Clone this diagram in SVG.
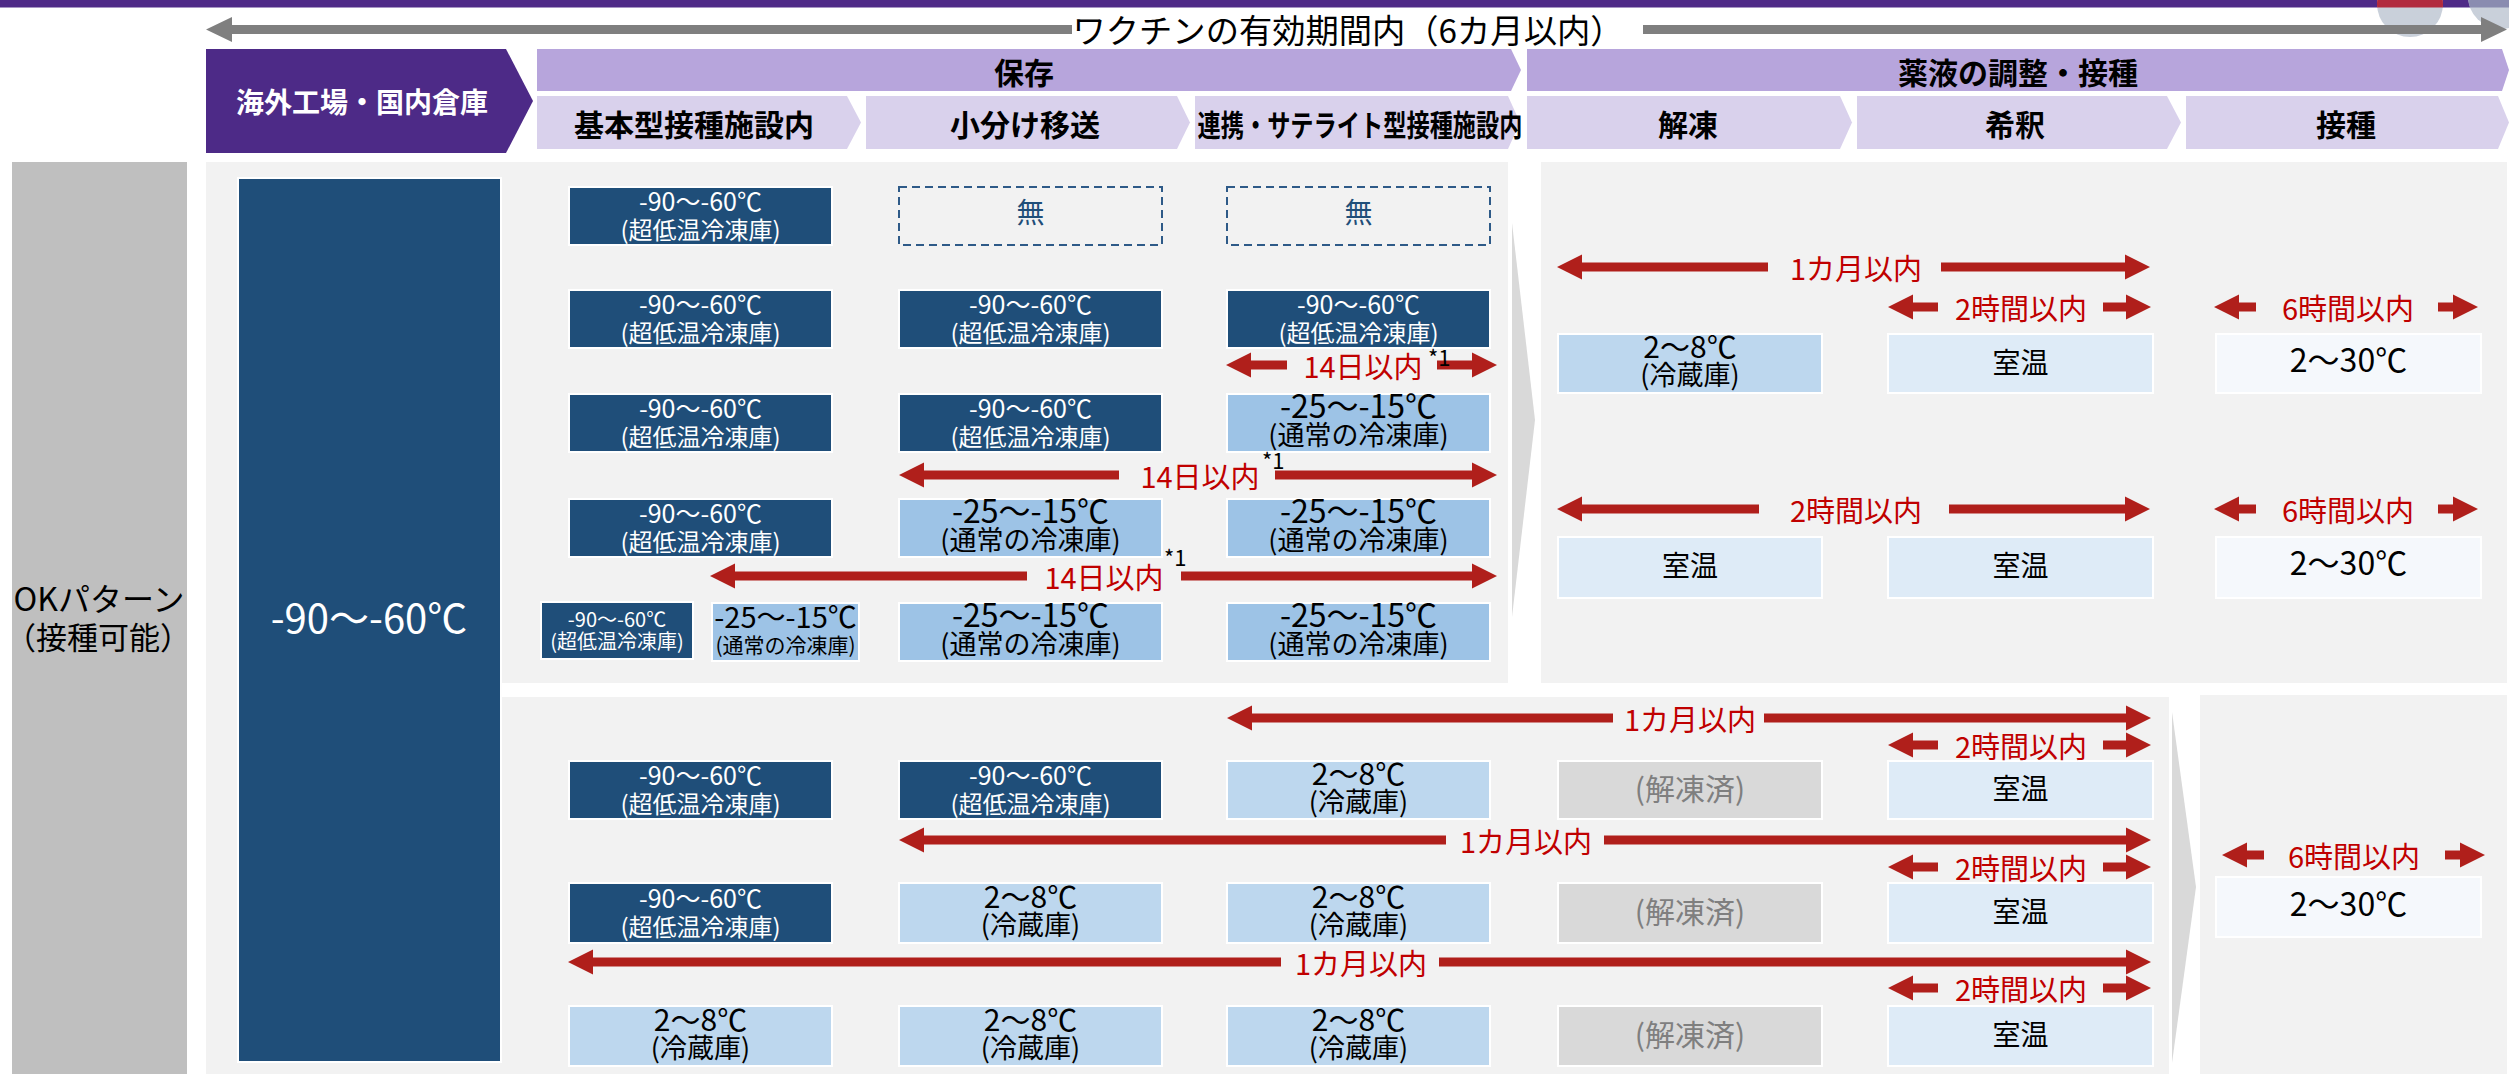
<svg xmlns="http://www.w3.org/2000/svg" width="2509" height="1074" viewBox="0 0 2509 1074">
<defs>
<style>
text{font-family:"Noto Sans CJK JP","Noto Sans",sans-serif;text-anchor:middle}
.hb{font-weight:700;font-size:30px;fill:#000}
.dk{fill:#1f4e79;stroke:#fff;stroke-width:2}
.lb{fill:#9dc3e6;stroke:#fff;stroke-width:2}
.rf{fill:#bdd7ee;stroke:#fff;stroke-width:2}
.rt{fill:#deebf7;stroke:#fff;stroke-width:2}
.rw{fill:#f5f8fc;stroke:#fff;stroke-width:2}
.th{fill:#d9d9d9;stroke:#fff;stroke-width:2}
.ds{fill:none;stroke:#2e5a88;stroke-width:2;stroke-dasharray:8 5}
.w{fill:#fff}
.k{fill:#000}
.d1{font-size:25px}
.d2{font-size:24px}
.l1{font-size:32px}
.l2{font-size:27px}
.f1{font-size:30px}
.rtx{font-size:28px;fill:#000}
.w30{font-size:32px;fill:#000}
.thx{font-size:30px;fill:#7f7f7f}
.nx{font-size:28px;fill:#1f4e79}
.r{fill:#c00000;font-size:29px}
.ar{fill:#b01f1b}
.ga{fill:#7f7f7f}
.s{font-size:22px;text-anchor:start;fill:#000}
.panel{fill:#f2f2f2}
.sl{fill:#d9d9d9}
</style>
<clipPath id="barclip"><rect x="0" y="0" width="2509" height="7.5"/></clipPath>
</defs>
<rect x="0" y="0" width="2509" height="1074" fill="#fff"/>

<g id="topbar">
<rect x="0" y="0" width="2509" height="7.5" fill="#4f2a87"/>
<circle cx="2410" cy="4" r="33" fill="#c9d0da"/>
<circle cx="2410" cy="4" r="33" fill="#b22a3e" clip-path="url(#barclip)"/>
<circle cx="2501" cy="-4" r="33" fill="#c9d0da"/>
<circle cx="2501" cy="-4" r="33" fill="#8a8cb0" clip-path="url(#barclip)"/>
</g>

<g id="validity">
<polygon class="ga" points="206,29.5 232,17 232,25 1072,25 1072,34 232,34 232,42"/>
<polygon class="ga" points="2507,29.5 2481,17 2481,25 1643,25 1643,34 2481,34 2481,42"/>
<text x="1348" y="43" font-size="33" fill="#000" textLength="551" lengthAdjust="spacingAndGlyphs">ワクチンの有効期間内（6カ月以内）</text>
</g>

<g id="panels">
<rect class="panel" x="206" y="162" width="1302" height="521"/>
<rect class="panel" x="206" y="162" width="296" height="912"/>
<rect class="panel" x="502" y="697" width="1667" height="377"/>
<rect class="panel" x="1541" y="162" width="966" height="521"/>
<rect class="panel" x="2200" y="695" width="307" height="379"/>
<polygon class="sl" points="1512,223 1535,420 1512,617"/>
<polygon class="sl" points="2172,712 2196,887 2172,1063"/>
</g>

<g id="header-factory">
<polygon points="206,49 506,49 533,101 506,153 206,153" fill="#4d2a87"/>
<text class="hb w" style="font-size:28px" x="362" y="113">海外工場・国内倉庫</text>
</g>
<g id="header-storage">
<polygon points="537,49 1511,49 1521,70 1511,91 537,91" fill="#b7a5dc"/>
<text class="hb" x="1024" y="84">保存</text>
</g>
<g id="header-prep">
<polygon points="1527,49 2502,49 2509,70 2502,91 1527,91" fill="#b7a5dc"/>
<text class="hb" x="2018" y="84">薬液の調整・接種</text>
</g>
<g id="sub-basic">
<polygon points="537,96 847,96 861,122.5 847,149 537,149" fill="#d9d1ec"/>
<text class="hb" x="694" y="136">基本型接種施設内</text>
</g>
<g id="sub-transfer">
<polygon points="866,96 1177,96 1190,122.5 1177,149 866,149" fill="#d9d1ec"/>
<text class="hb" x="1025" y="136">小分け移送</text>
</g>
<g id="sub-satellite">
<polygon points="1195,96 1508,96 1520,122.5 1508,149 1195,149" fill="#d9d1ec"/>
<text class="hb" x="1360" y="136" textLength="325" lengthAdjust="spacingAndGlyphs">連携・サテライト型接種施設内</text>
</g>
<g id="sub-thaw">
<polygon points="1527,96 1840,96 1852,122.5 1840,149 1527,149" fill="#d9d1ec"/>
<text class="hb" x="1688" y="136">解凍</text>
</g>
<g id="sub-dilute">
<polygon points="1857,96 2167,96 2181,122.5 2167,149 1857,149" fill="#d9d1ec"/>
<text class="hb" x="2015" y="136">希釈</text>
</g>
<g id="sub-inject">
<polygon points="2186,96 2498,96 2509,122.5 2498,149 2186,149" fill="#d9d1ec"/>
<text class="hb" x="2346" y="136">接種</text>
</g>

<g id="label-ok">
<rect x="12" y="162" width="175" height="912" fill="#bfbfbf"/>
<text x="99" y="611" font-size="32" fill="#000">OKパターン</text>
<text x="98" y="649" font-size="31" fill="#000">（接種可能）</text>
</g>

<g id="factory-temp">
<rect class="dk" x="238" y="178" width="263" height="884"/>
<text class="w" x="369" y="633" font-size="40">-90～-60℃</text>
</g>

<g id="r1c1"><rect class="dk" x="569" y="187" width="263" height="58"/><text class="w d1" x="700.5" y="211">-90～-60℃</text><text class="w d2" x="700.5" y="239">(超低温冷凍庫)</text></g>
<g id="r1c2"><rect class="ds" x="899" y="187" width="263" height="58"/><text class="nx" x="1030.5" y="223">無</text></g>
<g id="r1c3"><rect class="ds" x="1227" y="187" width="263" height="58"/><text class="nx" x="1358.5" y="223">無</text></g>

<g id="r2c1"><rect class="dk" x="569" y="290" width="263" height="58"/><text class="w d1" x="700.5" y="314">-90～-60℃</text><text class="w d2" x="700.5" y="342">(超低温冷凍庫)</text></g>
<g id="r2c2"><rect class="dk" x="899" y="290" width="263" height="58"/><text class="w d1" x="1030.5" y="314">-90～-60℃</text><text class="w d2" x="1030.5" y="342">(超低温冷凍庫)</text></g>
<g id="r2c3"><rect class="dk" x="1227" y="290" width="263" height="58"/><text class="w d1" x="1358.5" y="314">-90～-60℃</text><text class="w d2" x="1358.5" y="342">(超低温冷凍庫)</text></g>

<g id="r3c1"><rect class="dk" x="569" y="394" width="263" height="58"/><text class="w d1" x="700.5" y="418">-90～-60℃</text><text class="w d2" x="700.5" y="446">(超低温冷凍庫)</text></g>
<g id="r3c2"><rect class="dk" x="899" y="394" width="263" height="58"/><text class="w d1" x="1030.5" y="418">-90～-60℃</text><text class="w d2" x="1030.5" y="446">(超低温冷凍庫)</text></g>
<g id="r3c3"><rect class="lb" x="1227" y="394" width="263" height="58"/><text class="k l1" x="1358.5" y="418">-25～-15℃</text><text class="k l2" x="1358.5" y="445">(通常の冷凍庫)</text></g>

<g id="r4c1"><rect class="dk" x="569" y="499" width="263" height="58"/><text class="w d1" x="700.5" y="523">-90～-60℃</text><text class="w d2" x="700.5" y="551">(超低温冷凍庫)</text></g>
<g id="r4c2"><rect class="lb" x="899" y="499" width="263" height="58"/><text class="k l1" x="1030.5" y="523">-25～-15℃</text><text class="k l2" x="1030.5" y="550">(通常の冷凍庫)</text></g>
<g id="r4c3"><rect class="lb" x="1227" y="499" width="263" height="58"/><text class="k l1" x="1358.5" y="523">-25～-15℃</text><text class="k l2" x="1358.5" y="550">(通常の冷凍庫)</text></g>

<g id="r5c1a"><rect class="dk" x="541" y="602" width="152" height="57"/><text class="w" font-size="20" x="617" y="627">-90～-60℃</text><text class="w" font-size="20" x="617" y="649">(超低温冷凍庫)</text></g>
<g id="r5c1b"><rect class="lb" x="712" y="603" width="147" height="58"/><text class="k" font-size="29" x="785.5" y="628">-25～-15℃</text><text class="k" font-size="21" x="785.5" y="653">(通常の冷凍庫)</text></g>
<g id="r5c2"><rect class="lb" x="899" y="603" width="263" height="58"/><text class="k l1" x="1030.5" y="627">-25～-15℃</text><text class="k l2" x="1030.5" y="654">(通常の冷凍庫)</text></g>
<g id="r5c3"><rect class="lb" x="1227" y="603" width="263" height="58"/><text class="k l1" x="1358.5" y="627">-25～-15℃</text><text class="k l2" x="1358.5" y="654">(通常の冷凍庫)</text></g>

<g id="raC4"><rect class="rf" x="1558" y="334" width="264" height="59"/><text class="k f1" x="1690" y="358">2～8℃</text><text class="k l2" x="1690" y="385">(冷蔵庫)</text></g>
<g id="raC5"><rect class="rt" x="1888" y="334" width="265" height="59"/><text class="rtx" x="2020.5" y="373">室温</text></g>
<g id="raC6"><rect class="rw" x="2216" y="334" width="265" height="59"/><text class="w30" x="2348.5" y="372">2～30℃</text></g>
<g id="rbC4"><rect class="rt" x="1558" y="537" width="264" height="61"/><text class="rtx" x="1690" y="576">室温</text></g>
<g id="rbC5"><rect class="rt" x="1888" y="537" width="265" height="61"/><text class="rtx" x="2020.5" y="576">室温</text></g>
<g id="rbC6"><rect class="rw" x="2216" y="537" width="265" height="61"/><text class="w30" x="2348.5" y="575">2～30℃</text></g>

<g id="l1c1"><rect class="dk" x="569" y="761" width="263" height="58"/><text class="w d1" x="700.5" y="785">-90～-60℃</text><text class="w d2" x="700.5" y="813">(超低温冷凍庫)</text></g>
<g id="l1c2"><rect class="dk" x="899" y="761" width="263" height="58"/><text class="w d1" x="1030.5" y="785">-90～-60℃</text><text class="w d2" x="1030.5" y="813">(超低温冷凍庫)</text></g>
<g id="l1c3"><rect class="rf" x="1227" y="761" width="263" height="58"/><text class="k f1" x="1358.5" y="785">2～8℃</text><text class="k l2" x="1358.5" y="812">(冷蔵庫)</text></g>
<g id="l1c4"><rect class="th" x="1558" y="761" width="264" height="58"/><text class="thx" x="1690" y="800">(解凍済)</text></g>
<g id="l1c5"><rect class="rt" x="1888" y="761" width="265" height="58"/><text class="rtx" x="2020.5" y="799">室温</text></g>

<g id="l2c1"><rect class="dk" x="569" y="883" width="263" height="60"/><text class="w d1" x="700.5" y="908">-90～-60℃</text><text class="w d2" x="700.5" y="936">(超低温冷凍庫)</text></g>
<g id="l2c2"><rect class="rf" x="899" y="883" width="263" height="60"/><text class="k f1" x="1030.5" y="908">2～8℃</text><text class="k l2" x="1030.5" y="935">(冷蔵庫)</text></g>
<g id="l2c3"><rect class="rf" x="1227" y="883" width="263" height="60"/><text class="k f1" x="1358.5" y="908">2～8℃</text><text class="k l2" x="1358.5" y="935">(冷蔵庫)</text></g>
<g id="l2c4"><rect class="th" x="1558" y="883" width="264" height="60"/><text class="thx" x="1690" y="923">(解凍済)</text></g>
<g id="l2c5"><rect class="rt" x="1888" y="883" width="265" height="60"/><text class="rtx" x="2020.5" y="922">室温</text></g>

<g id="l3c1"><rect class="rf" x="569" y="1006" width="263" height="60"/><text class="k f1" x="700.5" y="1031">2～8℃</text><text class="k l2" x="700.5" y="1058">(冷蔵庫)</text></g>
<g id="l3c2"><rect class="rf" x="899" y="1006" width="263" height="60"/><text class="k f1" x="1030.5" y="1031">2～8℃</text><text class="k l2" x="1030.5" y="1058">(冷蔵庫)</text></g>
<g id="l3c3"><rect class="rf" x="1227" y="1006" width="263" height="60"/><text class="k f1" x="1358.5" y="1031">2～8℃</text><text class="k l2" x="1358.5" y="1058">(冷蔵庫)</text></g>
<g id="l3c4"><rect class="th" x="1558" y="1006" width="264" height="60"/><text class="thx" x="1690" y="1046">(解凍済)</text></g>
<g id="l3c5"><rect class="rt" x="1888" y="1006" width="265" height="60"/><text class="rtx" x="2020.5" y="1045">室温</text></g>

<g id="lrC6"><rect class="rw" x="2216" y="877" width="265" height="60"/><text class="w30" x="2348.5" y="916">2～30℃</text></g>

<g id="connectors">
<polygon class="ar" points="1226,365 1251,352.5 1251,360.5 1287,360.5 1287,369.5 1251,369.5 1251,377.5"/>
<polygon class="ar" points="1497,365 1472,352.5 1472,360.5 1437,360.5 1437,369.5 1472,369.5 1472,377.5"/>
<text class="r" x="1363" y="378">14日以内</text><text class="s" x="1428" y="366">*1</text>

<polygon class="ar" points="899,475 924,462.5 924,470.5 1119,470.5 1119,479.5 924,479.5 924,487.5"/>
<polygon class="ar" points="1497,475 1472,462.5 1472,470.5 1275,470.5 1275,479.5 1472,479.5 1472,487.5"/>
<text class="r" x="1200" y="488">14日以内</text><text class="s" x="1262" y="469">*1</text>

<polygon class="ar" points="710,576 735,563.5 735,571.5 1027,571.5 1027,580.5 735,580.5 735,588.5"/>
<polygon class="ar" points="1497,576 1472,563.5 1472,571.5 1181,571.5 1181,580.5 1472,580.5 1472,588.5"/>
<text class="r" x="1104" y="589">14日以内</text><text class="s" x="1164" y="566">*1</text>

<polygon class="ar" points="1557,267 1582,254.5 1582,262.5 1768,262.5 1768,271.5 1582,271.5 1582,279.5"/>
<polygon class="ar" points="2150,267 2125,254.5 2125,262.5 1941,262.5 1941,271.5 2125,271.5 2125,279.5"/>
<text class="r" x="1856" y="280">1カ月以内</text>

<polygon class="ar" points="1888,307 1913,294.5 1913,302.5 1938,302.5 1938,311.5 1913,311.5 1913,319.5"/>
<polygon class="ar" points="2151,307 2126,294.5 2126,302.5 2103,302.5 2103,311.5 2126,311.5 2126,319.5"/>
<text class="r" x="2021" y="320">2時間以内</text>

<polygon class="ar" points="2214,307 2239,294.5 2239,302.5 2256,302.5 2256,311.5 2239,311.5 2239,319.5"/>
<polygon class="ar" points="2478,307 2453,294.5 2453,302.5 2438,302.5 2438,311.5 2453,311.5 2453,319.5"/>
<text class="r" x="2348" y="320">6時間以内</text>

<polygon class="ar" points="1557,509 1582,496.5 1582,504.5 1759,504.5 1759,513.5 1582,513.5 1582,521.5"/>
<polygon class="ar" points="2150,509 2125,496.5 2125,504.5 1949,504.5 1949,513.5 2125,513.5 2125,521.5"/>
<text class="r" x="1856" y="522">2時間以内</text>

<polygon class="ar" points="2214,509 2239,496.5 2239,504.5 2256,504.5 2256,513.5 2239,513.5 2239,521.5"/>
<polygon class="ar" points="2478,509 2453,496.5 2453,504.5 2438,504.5 2438,513.5 2453,513.5 2453,521.5"/>
<text class="r" x="2348" y="522">6時間以内</text>

<polygon class="ar" points="1227,718 1252,705.5 1252,713.5 1613,713.5 1613,722.5 1252,722.5 1252,730.5"/>
<polygon class="ar" points="2151,718 2126,705.5 2126,713.5 1764,713.5 1764,722.5 2126,722.5 2126,730.5"/>
<text class="r" x="1690" y="731">1カ月以内</text>

<polygon class="ar" points="1888,745 1913,732.5 1913,740.5 1938,740.5 1938,749.5 1913,749.5 1913,757.5"/>
<polygon class="ar" points="2151,745 2126,732.5 2126,740.5 2103,740.5 2103,749.5 2126,749.5 2126,757.5"/>
<text class="r" x="2021" y="758">2時間以内</text>

<polygon class="ar" points="899,840 924,827.5 924,835.5 1446,835.5 1446,844.5 924,844.5 924,852.5"/>
<polygon class="ar" points="2151,840 2126,827.5 2126,835.5 1604,835.5 1604,844.5 2126,844.5 2126,852.5"/>
<text class="r" x="1526" y="853">1カ月以内</text>

<polygon class="ar" points="1888,867 1913,854.5 1913,862.5 1938,862.5 1938,871.5 1913,871.5 1913,879.5"/>
<polygon class="ar" points="2151,867 2126,854.5 2126,862.5 2103,862.5 2103,871.5 2126,871.5 2126,879.5"/>
<text class="r" x="2021" y="880">2時間以内</text>

<polygon class="ar" points="568,962 593,949.5 593,957.5 1281,957.5 1281,966.5 593,966.5 593,974.5"/>
<polygon class="ar" points="2151,962 2126,949.5 2126,957.5 1439,957.5 1439,966.5 2126,966.5 2126,974.5"/>
<text class="r" x="1361" y="975">1カ月以内</text>

<polygon class="ar" points="1888,988 1913,975.5 1913,983.5 1938,983.5 1938,992.5 1913,992.5 1913,1000.5"/>
<polygon class="ar" points="2151,988 2126,975.5 2126,983.5 2103,983.5 2103,992.5 2126,992.5 2126,1000.5"/>
<text class="r" x="2021" y="1001">2時間以内</text>

<polygon class="ar" points="2222,855 2247,842.5 2247,850.5 2264,850.5 2264,859.5 2247,859.5 2247,867.5"/>
<polygon class="ar" points="2485,855 2460,842.5 2460,850.5 2445,850.5 2445,859.5 2460,859.5 2460,867.5"/>
<text class="r" x="2354" y="868">6時間以内</text>
</g>
</svg>
